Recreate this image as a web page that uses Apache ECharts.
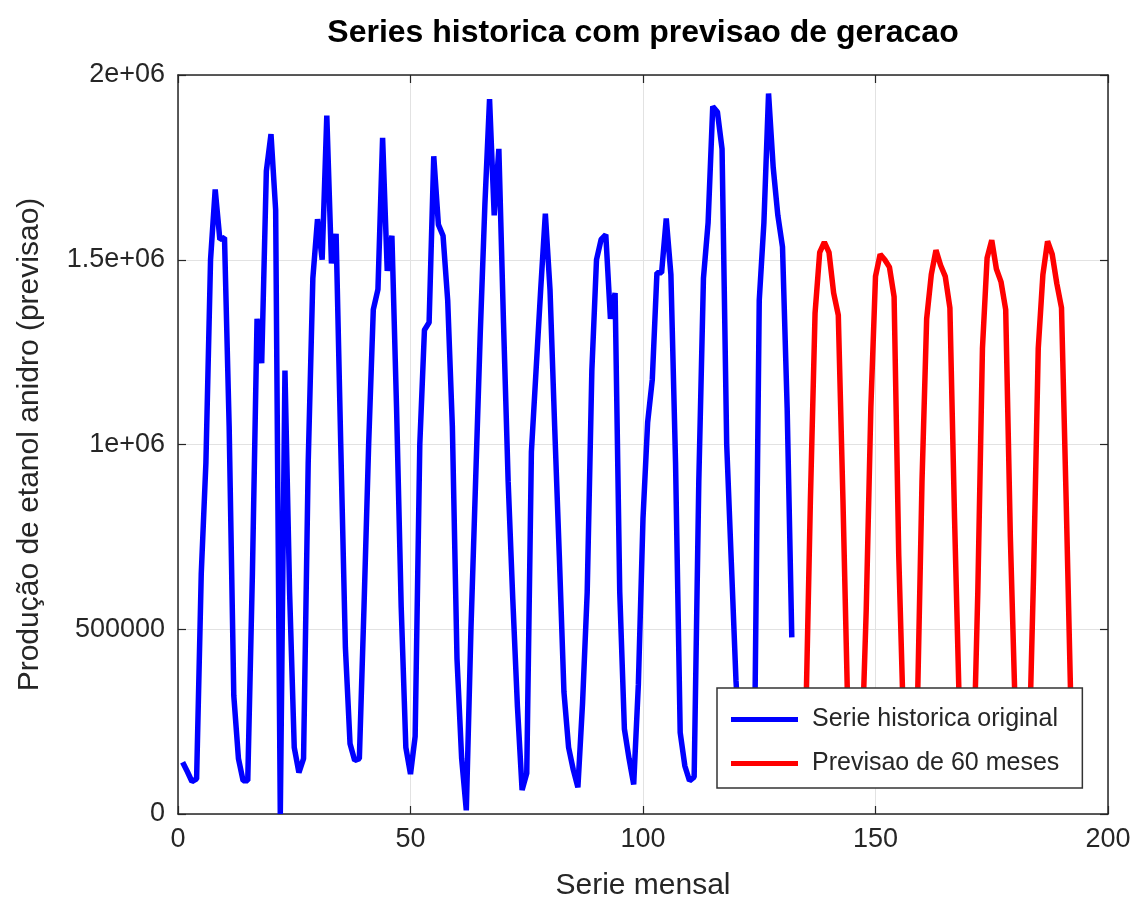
<!DOCTYPE html>
<html>
<head>
<meta charset="utf-8">
<script src="https://cdn.jsdelivr.net/npm/echarts@6/dist/echarts.min.js"></script>
<style>
html,body{margin:0;padding:0;background:#fff;}
#chart{width:1138px;height:906px;}
</style>
</head>
<body>
<div id="chart"></div>
<script>
// ---- data ----
const histStart = 1;
const histValues = [
  140000, 115000, 88000, 95000, 650000, 950000, 1500000, 1690000, 1555000, 1560000,
  1050000, 320000, 150000, 90000, 90000, 650000, 1340000, 1220000, 1740000, 1840000,
  1635000, 0, 1200000, 600000, 180000, 112000, 150000, 950000, 1450000, 1610000,
  1500000, 1890000, 1490000, 1570000, 1000000, 450000, 190000, 145000, 150000, 560000,
  1000000, 1365000, 1420000, 1830000, 1470000, 1565000, 1100000, 560000, 180000, 108000,
  210000, 1000000, 1310000, 1330000, 1780000, 1595000, 1565000, 1390000, 1050000, 420000,
  150000, 10000, 500000, 900000, 1300000, 1650000, 1935000, 1620000, 1800000, 1330000,
  900000, 580000, 290000, 65000, 110000, 980000, 1200000, 1420000, 1625000, 1420000,
  1050000, 700000, 330000, 180000, 120000, 72000, 300000, 600000, 1200000, 1500000,
  1555000, 1568000, 1340000, 1410000, 600000, 230000, 150000, 80000, 350000, 800000,
  1060000, 1176000, 1465000, 1465000, 1612000, 1460000, 950000, 220000, 130000, 90000,
  100000, 900000, 1450000, 1600000, 1915000, 1900000, 1800000, 1000000, 680000, 360000,
  150000, 80000, 100000, 200000, 1390000, 1600000, 1950000, 1750000, 1620000, 1535000,
  1100000, 478000
];
const forecastStart = 133;
const forecastValues = [
  150000, 90000, 250000, 850000, 1355000, 1520000, 1548000, 1520000, 1410000, 1350000,
  850000, 300000, 100000, 80000, 150000, 550000, 1100000, 1455000, 1515000, 1500000,
  1480000, 1400000, 700000, 250000, 90000, 100000, 280000, 900000, 1340000, 1460000,
  1526000, 1485000, 1455000, 1370000, 800000, 300000, 100000, 90000, 100000, 600000,
  1260000, 1505000, 1553000, 1475000, 1440000, 1365000, 750000, 300000, 90000, 90000,
  150000, 650000, 1260000, 1460000, 1550000, 1515000, 1435000, 1370000, 850000, 300000
];
const seriesNames = ['Serie historica original', 'Previsao de 60 meses'];
const xTickValues = [0, 50, 100, 150, 200];
const yTickLabels = ['0', '500000', '1e+06', '1.5e+06', '2e+06'];
const titleText = 'Series historica com previsao de geracao';
const xAxisName = 'Serie mensal';
const yAxisName = 'Produção de etanol anidro (previsao)';

// ---- build ----
const histData = histValues.map((v, i) => [histStart + i, v]);
const forecastData = forecastValues.map((v, i) => [forecastStart + i, v]);

const FONT = 'Liberation Sans';
const AX = '#262626';
const frameLine = {show: true, onZero: false, lineStyle: {color: AX, width: 1.5}};
const tick = {show: true, inside: true, length: 8, lineStyle: {color: AX, width: 1.2}};

const chart = echarts.init(document.getElementById('chart'), null, {renderer: 'canvas'});
chart.setOption({
  backgroundColor: '#ffffff',
  animation: false,
  title: {
    text: titleText,
    left: 643, top: 17, padding: 0, textAlign: 'center',
    textStyle: {fontFamily: FONT, fontSize: 32, fontWeight: 'bold', color: '#000'}
  },
  grid: {left: 178, right: 30, top: 75, bottom: 91, containLabel: false},
  legend: {
    orient: 'vertical', left: 717, top: 688,
    backgroundColor: '#ffffff', borderColor: '#333', borderWidth: 1.5,
    padding: [19, 23, 12, 14],
    icon: 'rect', itemWidth: 67, itemHeight: 5, itemGap: 19,
    textStyle: {fontFamily: FONT, fontSize: 25, color: AX, padding: [0, 0, 0, 9]},
    data: seriesNames
  },
  xAxis: [
    {
      type: 'value', min: xTickValues[0], max: xTickValues[xTickValues.length - 1],
      interval: xTickValues[1] - xTickValues[0], position: 'bottom',
      axisLine: frameLine, axisTick: tick,
      axisLabel: {fontFamily: FONT, fontSize: 27, color: AX, margin: 12},
      splitLine: {show: true, lineStyle: {color: '#e2e2e2', width: 1}},
      name: xAxisName, nameLocation: 'middle', nameGap: 57,
      nameTextStyle: {fontFamily: FONT, fontSize: 30, color: AX}
    },
    {
      type: 'value', min: xTickValues[0], max: xTickValues[xTickValues.length - 1],
      interval: xTickValues[1] - xTickValues[0], position: 'top',
      axisLine: frameLine, axisTick: tick, axisLabel: {show: false}, splitLine: {show: false}
    }
  ],
  yAxis: [
    {
      type: 'value', min: 0, max: 2000000, interval: 500000, position: 'left',
      axisLine: frameLine, axisTick: tick,
      axisLabel: {fontFamily: FONT, fontSize: 27, color: AX, margin: 13,
        formatter: v => yTickLabels[Math.round(v / 500000)]},
      splitLine: {show: true, lineStyle: {color: '#e2e2e2', width: 1}},
      name: yAxisName, nameLocation: 'middle', nameGap: 133, nameRotate: 90,
      nameTextStyle: {fontFamily: FONT, fontSize: 30, color: AX}
    },
    {
      type: 'value', min: 0, max: 2000000, interval: 500000, position: 'right',
      axisLine: frameLine, axisTick: tick, axisLabel: {show: false}, splitLine: {show: false}
    }
  ],
  series: [
    {
      name: seriesNames[0], type: 'line', xAxisIndex: 0, yAxisIndex: 0,
      data: histData, symbol: 'none', showSymbol: false,
      lineStyle: {color: '#0000ff', width: 5.5}, itemStyle: {color: '#0000ff'}
    },
    {
      name: seriesNames[1], type: 'line', xAxisIndex: 0, yAxisIndex: 0,
      data: forecastData, symbol: 'none', showSymbol: false,
      lineStyle: {color: '#ff0000', width: 5.5}, itemStyle: {color: '#ff0000'}
    }
  ]
});
</script>
</body>
</html>
